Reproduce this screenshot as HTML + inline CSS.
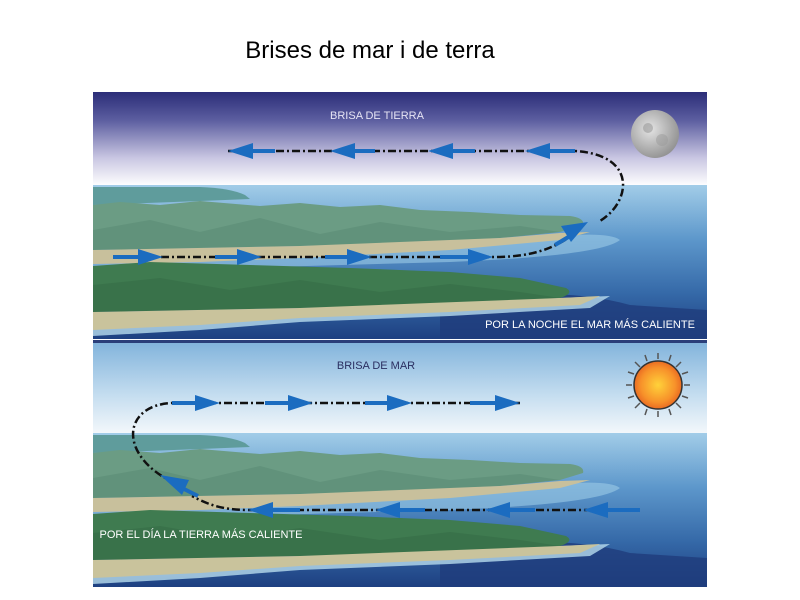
<!DOCTYPE html>
<html><head><meta charset="utf-8"><style>
html,body{margin:0;padding:0;background:#fff;width:800px;height:600px;overflow:hidden}
</style></head><body>
<svg width="800" height="600" viewBox="0 0 800 600" xmlns="http://www.w3.org/2000/svg" font-family="Liberation Sans, sans-serif">
<defs>
<linearGradient id="nsky" x1="0" y1="0" x2="0" y2="1">
<stop offset="0" stop-color="#2b2d78"/><stop offset="0.3" stop-color="#5c5ea0"/><stop offset="0.7" stop-color="#c9c6e2"/><stop offset="1" stop-color="#ffffff"/></linearGradient>
<linearGradient id="dsky" x1="0" y1="0" x2="0" y2="1">
<stop offset="0" stop-color="#7fb2db"/><stop offset="0.6" stop-color="#c6def0"/><stop offset="1" stop-color="#f4f8fb"/></linearGradient>
<linearGradient id="sea" x1="0" y1="0" x2="0" y2="1">
<stop offset="0" stop-color="#a2cde8"/><stop offset="0.35" stop-color="#5d97cb"/><stop offset="0.7" stop-color="#3569a8"/><stop offset="1" stop-color="#1d3f80"/></linearGradient>
<radialGradient id="moon" cx="0.4" cy="0.4" r="0.7"><stop offset="0" stop-color="#e4e4e4"/><stop offset="1" stop-color="#8a8a8a"/></radialGradient>
<radialGradient id="sun" cx="0.5" cy="0.5" r="0.6"><stop offset="0" stop-color="#ffd23a"/><stop offset="0.6" stop-color="#f7912a"/><stop offset="1" stop-color="#e0501c"/></radialGradient>
<clipPath id="c1"><rect x="93" y="92" width="614" height="247"/></clipPath>
<clipPath id="c2"><rect x="93" y="340" width="614" height="247"/></clipPath>
<g id="land">
<rect x="93" y="185" width="614" height="155" fill="url(#sea)"/>
<path d="M440,300 Q560,285 630,305 L707,310 L707,340 L440,340Z" fill="#1f3c7c" opacity="0.8"/>
<path d="M93,258 L560,236 Q610,232 620,240 Q600,256 450,262 L93,272Z" fill="#9ccbe6" opacity="0.6"/>
<path d="M93,187 L200,187 Q230,188 245,195 L250,199 L200,201 L93,205 Z" fill="#5f9c9c"/>
<path d="M93,205 L120,202 L160,205 L200,201 L260,206 L300,203 L340,207 L380,205 L420,210 L470,212 L520,215 L570,216 Q585,218 583,225 L560,232 L500,238 L400,243 L300,246 L200,248 L93,250 Z" fill="#6b9c84"/>
<path d="M93,230 L150,220 L200,232 L260,218 L320,234 L380,222 L450,232 L520,226 L560,232 L500,238 L400,243 L300,246 L200,248 L93,250Z" fill="#5a8c74" opacity="0.6"/>
<path d="M93,250 L300,246 L500,238 L560,233 L590,232 L560,240 L450,250 L300,258 L200,262 L93,264 Z" fill="#c8c09c"/>
<path d="M93,314 L300,310 L560,298 L610,296 L590,308 L450,316 L300,322 L200,330 L93,336 Z" fill="#b8dcee" opacity="0.8"/>
<path d="M93,266 L150,262 L250,265 L350,268 L450,272 L520,278 L566,288 Q575,293 560,298 L450,304 L300,308 L200,310 L93,312 Z" fill="#3f7b50"/>
<path d="M93,285 L160,278 L230,290 L300,280 L380,292 L450,284 L520,292 L560,298 L450,304 L300,308 L200,310 L93,312Z" fill="#356c46" opacity="0.6"/>
<path d="M93,312 L300,308 L560,298 L600,296 L580,305 L450,312 L300,318 L200,325 L93,330 Z" fill="#c9c39c"/>
</g>
</defs>
<text x="370" y="58" font-size="24" text-anchor="middle" fill="#000">Brises de mar i de terra</text>

<g clip-path="url(#c1)">
<rect x="93" y="92" width="614" height="94" fill="url(#nsky)"/>
<use href="#land"/>
<circle cx="655" cy="134" r="24" fill="url(#moon)"/>
<circle cx="648" cy="128" r="5" fill="#9a9a9a" opacity="0.6"/><circle cx="662" cy="140" r="6" fill="#9a9a9a" opacity="0.5"/>
<text x="377" y="119" font-size="11" fill="#e6e4f4" text-anchor="middle">BRISA DE TIERRA</text>
<text x="590" y="328" font-size="11" fill="#fff" text-anchor="middle">POR LA NOCHE EL MAR MÁS  CALIENTE</text>
<g fill="none" stroke="#111" stroke-width="2.5" stroke-dasharray="8,3,2,3">
<path d="M228,151 L575,151 C640,155 630,205 598,222"/>
<path d="M113,257 L500,257 C530,256 550,250 568,238"/>
</g>
<g stroke="#1b6cc0" stroke-width="4" fill="none">
<path d="M250,151 H275 M352,151 H375 M450,151 H475 M547,151 H575"/>
<path d="M113,257 H140 M215,257 H240 M325,257 H350 M440,257 H470"/>
<path d="M555,245 L570,236"/>
</g>
<g fill="#1b6cc0">
<polygon points="228,151 253,143 253,159"/><polygon points="330,151 355,143 355,159"/><polygon points="428,151 453,143 453,159"/><polygon points="525,151 550,143 550,159"/>
<polygon points="163,257 138,249 138,265"/><polygon points="262,257 237,249 237,265"/><polygon points="372,257 347,249 347,265"/><polygon points="493,257 468,249 468,265"/>
<polygon points="588,222 571,242 561,226"/>
</g>
</g>

<g clip-path="url(#c2)">
<rect x="93" y="340" width="614" height="94" fill="url(#dsky)"/>
<g transform="translate(0,248)"><use href="#land"/></g>
<rect x="93" y="340" width="614" height="3" fill="#2b3f7a"/>
<g stroke="#555" stroke-width="1.5">
<path d="M658,353 V359 M658,411 V417 M626,385 H632 M684,385 H690 M635,362 L640,367 M676,403 L681,408 M681,362 L676,367 M640,403 L635,408 M645,355 L647,361 M669,409 L671,415 M671,355 L669,361 M647,409 L645,415 M628,372 L634,374 M682,396 L688,398 M688,372 L682,374 M634,396 L628,398"/>
</g>
<circle cx="658" cy="385" r="24" fill="url(#sun)" stroke="#333" stroke-width="1.5"/>
<text x="376" y="369" font-size="11" fill="#2a2e60" text-anchor="middle">BRISA DE MAR</text>
<text x="201" y="538" font-size="11" fill="#fff" text-anchor="middle">POR EL DÍA LA TIERRA MÁS CALIENTE</text>
<g fill="none" stroke="#111" stroke-width="2.5" stroke-dasharray="8,3,2,3">
<path d="M520,403 L172,403 C125,405 118,450 165,478"/>
<path d="M640,510 L248,510 C220,510 205,503 192,496"/>
</g>
<g stroke="#1b6cc0" stroke-width="4">
<path d="M172,403 H197 M265,403 H290 M365,403 H390 M470,403 H497"/>
<path d="M273,510 H300 M400,510 H425 M510,510 H535 M608,510 H640"/>
<path d="M182,488 L198,496"/>
</g>
<g fill="#1b6cc0">
<polygon points="220,403 195,395 195,411"/><polygon points="313,403 288,395 288,411"/><polygon points="412,403 387,395 387,411"/><polygon points="520,403 495,395 495,411"/>
<polygon points="248,510 273,502 273,518"/><polygon points="375,510 400,502 400,518"/><polygon points="485,510 510,502 510,518"/><polygon points="583,510 608,502 608,518"/>
<polygon points="160,475 189,480 182,495"/>
</g>
</g>
</svg>
</body></html>
